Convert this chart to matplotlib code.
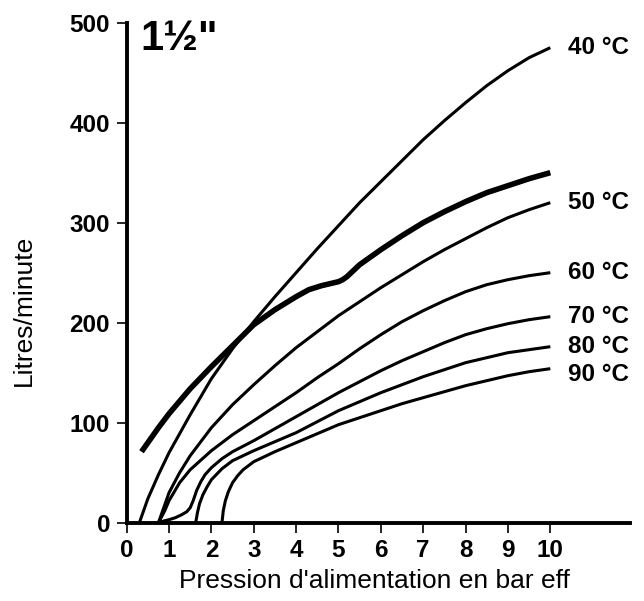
import matplotlib.pyplot as plt

plt.rcParams['font.family'] = ['Liberation Sans', 'DejaVu Sans']

# saturated steam curve (thick, unlabelled)
p_sat = [0.35, 0.5, 0.75, 1.0, 1.5, 2.0, 2.5, 3.0, 3.5, 4.0, 4.3, 4.6, 4.8, 5.0, 5.1, 5.2,
         5.3, 5.4, 5.5, 5.6, 5.8, 6.0, 6.5, 7.0, 7.5, 8.0, 8.5, 9.0, 9.5, 10.0]
q_sat = [71, 80, 95, 109, 134, 156, 177, 198, 213, 226, 233, 237, 239, 241, 243, 246,
         250, 254, 258, 261, 267, 273, 287, 300, 311, 321, 330, 337, 344, 350]

# condensate curves by temperature
p_40 = [0.3, 0.5, 0.75, 1.0, 1.5, 2.0, 2.5, 3.0, 3.5, 4.0, 4.5, 5.0, 5.5, 6.0, 6.5,
        7.0, 7.5, 8.0, 8.5, 9.0, 9.5, 10.0]
q_40 = [0, 24, 48, 70, 108, 144, 174, 201, 226, 250, 274, 297, 320, 341, 362,
        383, 402, 420, 437, 452, 465, 475]

p_50 = [0.75, 0.9, 1.0, 1.25, 1.5, 2.0, 2.5, 3.0, 3.5, 4.0, 4.5, 5.0, 5.5, 6.0, 6.5,
        7.0, 7.5, 8.0, 8.5, 9.0, 9.5, 10.0]
q_50 = [0, 18, 30, 50, 67, 95, 118, 138, 157, 175, 191, 207, 221, 235, 248,
        261, 273, 284, 295, 305, 313, 320]

p_60 = [0.75, 0.9, 1.0, 1.25, 1.5, 2.0, 2.5, 3.0, 3.5, 4.0, 4.5, 5.0, 5.5, 6.0, 6.5,
        7.0, 7.5, 8.0, 8.5, 9.0, 9.5, 10.0]
q_60 = [0, 12, 22, 40, 53, 72, 88, 102, 116, 130, 145, 159, 174, 188, 201,
        212, 222, 231, 238, 243, 247, 250]

p_70 = [0.75, 0.9, 1.0, 1.15, 1.3, 1.42, 1.5, 1.57, 1.65, 1.75, 1.85, 2.0, 2.25, 2.5,
        3.0, 3.5, 4.0, 4.5, 5.0, 5.5, 6.0, 6.5, 7.0, 7.5, 8.0, 8.5, 9.0, 9.5, 10.0]
q_70 = [0, 2, 3, 5, 8, 11, 15, 22, 32, 41, 48, 55, 64, 71,
        82, 94, 106, 118, 130, 141, 152, 162, 171, 180, 188, 194, 199, 203, 206]

p_80 = [1.63, 1.67, 1.72, 1.8, 1.9, 2.0, 2.25, 2.5, 3.0, 3.5, 4.0, 4.5, 5.0, 5.5, 6.0,
        6.5, 7.0, 7.5, 8.0, 8.5, 9.0, 9.5, 10.0]
q_80 = [0, 10, 19, 28, 36, 43, 54, 62, 72, 81, 90, 101, 112, 121, 130,
        138, 146, 153, 160, 165, 170, 173, 176]

p_90 = [2.25, 2.28, 2.33, 2.4, 2.5, 2.62, 2.75, 3.0, 3.5, 4.0, 4.5, 5.0, 5.5, 6.0, 6.5,
        7.0, 7.5, 8.0, 8.5, 9.0, 9.5, 10.0]
q_90 = [0, 12, 22, 31, 40, 47, 53, 61, 71, 80, 89, 98, 105, 112, 119,
        125, 131, 137, 142, 147, 151, 154]

curves = [
    ('40 °C', p_40, q_40),
    ('50 °C', p_50, q_50),
    ('60 °C', p_60, q_60),
    ('70 °C', p_70, q_70),
    ('80 °C', p_80, q_80),
    ('90 °C', p_90, q_90),
]
label_shift = {'90 °C': -6}

fig = plt.figure(figsize=(6.44, 6.01), dpi=100)
ax = fig.add_axes([0.1967, 0.1303, 0.7815, 0.832])

ax.plot(p_sat, q_sat, color='black', lw=4.0, solid_capstyle='butt', solid_joinstyle='round')
for name, p, q in curves:
    ax.plot(p, q, color='black', lw=2.2, solid_capstyle='butt', solid_joinstyle='round')
    ax.text(10.42, q[-1] + label_shift.get(name, 0), name, fontsize=17.5,
            fontweight='bold', va='center', ha='left')

ax.text(0.33, 504, '1½"', fontsize=30, fontweight='bold', va='top', ha='left')

ax.set_xlim(0, 11.88)
ax.set_ylim(0, 500)
ax.set_xticks(range(0, 11))
ax.set_yticks(range(0, 501, 100))

for side in ['top', 'right']:
    ax.spines[side].set_visible(False)
for side in ['left', 'bottom']:
    ax.spines[side].set_linewidth(2.8)
ax.tick_params(length=7, width=1.2, labelsize=17.5, pad=5)
for lbl in ax.get_xticklabels() + ax.get_yticklabels():
    lbl.set_fontweight('bold')

ax.set_xlabel("Pression d'alimentation en bar eff", fontsize=19)
ax.set_ylabel('Litres/minute', fontsize=19)
ax.xaxis.set_label_coords(0.493, -0.093)
ax.yaxis.set_label_coords(-0.18, 0.425)

fig.savefig('out.png', dpi=100)
